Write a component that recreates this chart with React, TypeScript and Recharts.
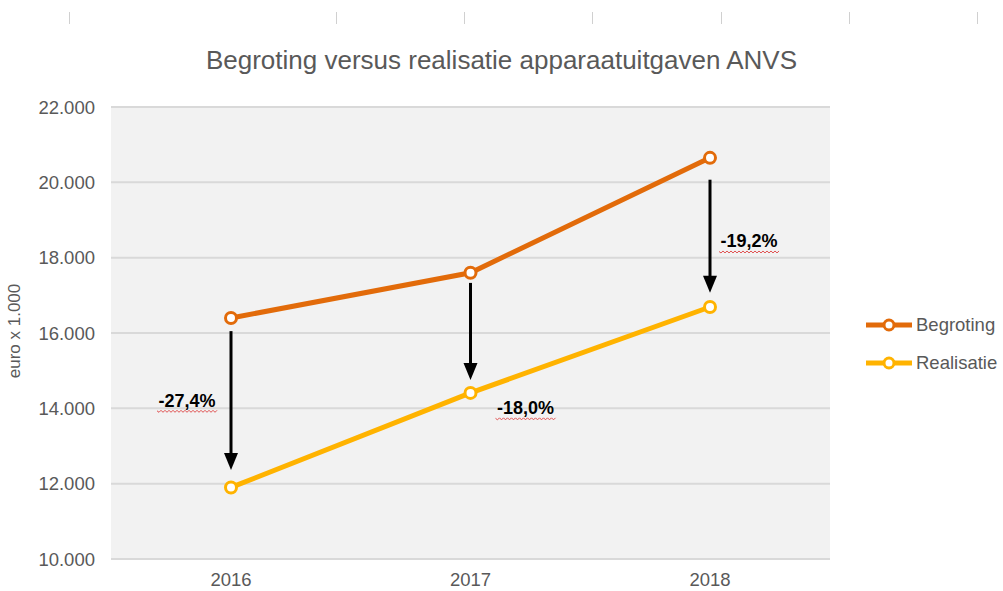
import { LineChart, Line, XAxis, YAxis, CartesianGrid, ReferenceLine, ReferenceDot } from 'recharts'

const categories = ['2016', '2017', '2018']
const begroting = [16400, 17600, 20650]
const realisatie = [11900, 14410, 16690]
// arrows run from just under the Begroting point to just above the Realisatie point
const arrowFrom = [16050, 17330, 20070]
const arrowTo = [12360, 14750, 17070]
const diffLabels = ['-27,4%', '-18,0%', '-19,2%']
const diffLabelY = [14200, 14000, 18430]
const yTicks = [10000, 12000, 14000, 16000, 18000, 20000, 22000]

const BEGROTING = '#E26B0A'
const REALISATIE = '#FFB300'
const TEXT = '#595959'
const FONT = '"Liberation Sans", Arial, sans-serif'

const chartData = categories.map((year, i) => ({
  year,
  Begroting: begroting[i],
  Realisatie: realisatie[i],
}))

const fmt = (v: number) => String(v).replace(/\B(?=(\d{3})+(?!\d))/g, '.')

// sideways shift of each percentage label from its year, in px
const labelDx = [-44, 55, 39]

function Arrow(props: any) {
  const { x1, y1, x2, y2 } = props
  return (
    <g>
      <line x1={x1} y1={y1} x2={x2} y2={y2 - 14} stroke="#000" strokeWidth={3} />
      <polygon points={`${x2 - 7},${y2 - 17} ${x2 + 7},${y2 - 17} ${x2},${y2}`} fill="#000" />
    </g>
  )
}

function squiggle(x: number, y: number, w: number) {
  let d = `M${x},${y}`
  for (let i = 0; i * 2 < w; i++) d += ` L${x + (i + 1) * 2},${y + (i % 2 === 0 ? 1.5 : -0.5)}`
  return d
}

function PctLabel(i: number) {
  return (props: any) => {
    const cx = props.cx + labelDx[i]
    const cy = props.cy
    return (
      <g>
        <text x={cx} y={cy} textAnchor="middle" dominantBaseline="central" fontSize={18} fontWeight="bold" fill="#000" fontFamily={FONT}>
          {diffLabels[i]}
        </text>
        <path d={squiggle(cx - 30, cy + 10, 60)} stroke="#E05050" strokeWidth={1} fill="none" />
      </g>
    )
  }
}

function LegendBox() {
  const items = [
    { name: 'Begroting', color: BEGROTING },
    { name: 'Realisatie', color: REALISATIE },
  ]
  return (
    <div style={{ position: 'absolute', left: 866, top: 306, fontFamily: FONT }}>
      {items.map((it) => (
        <div key={it.name} style={{ display: 'flex', alignItems: 'center', height: 38 }}>
          <svg width={50} height={14}>
            <line x1={0} y1={7} x2={46} y2={7} stroke={it.color} strokeWidth={5} />
            <circle cx={23} cy={7} r={5} fill="#fff" stroke={it.color} strokeWidth={3} />
          </svg>
          <span style={{ fontSize: 18.5, color: TEXT }}>{it.name}</span>
        </div>
      ))}
    </div>
  )
}

const topMarks = [69, 336, 464, 592, 721, 849, 977]

export default function App() {
  return (
    <div style={{ position: 'absolute', left: 0, top: 0, width: 1003, height: 591, background: '#fff', fontFamily: FONT }}>
      {topMarks.map((x) => (
        <div key={x} style={{ position: 'absolute', left: x, top: 12, width: 1, height: 12, background: '#d0d0d0' }} />
      ))}
      <div style={{ position: 'absolute', left: 0, top: 45, width: 1003, textAlign: 'center', fontSize: 26, color: TEXT }}>
        Begroting versus realisatie apparaatuitgaven ANVS
      </div>
      <div
        style={{
          position: 'absolute', left: 15, top: 331, transform: 'translate(-50%, -50%) rotate(-90deg)',
          fontSize: 17, color: TEXT, whiteSpace: 'nowrap',
        }}
      >
        euro x 1.000
      </div>
      <LineChart width={1003} height={591} data={chartData} margin={{ top: 107, right: 173, bottom: 0, left: 0 }}>
        <CartesianGrid vertical={false} stroke="#D9D9D9" strokeWidth={2} fill="#F2F2F2" />
        <XAxis
          dataKey="year" padding={{ left: 120, right: 120 }} height={32} axisLine={false} tickLine={false}
          tickSize={0} tickMargin={14} tick={{ fontSize: 18.5, fill: TEXT, fontFamily: FONT }}
        />
        <YAxis
          width={111} domain={[10000, 22000]} ticks={yTicks} tickFormatter={fmt} axisLine={false} tickLine={false}
          tickSize={0} tickMargin={16} tick={{ fontSize: 18.5, fill: TEXT, fontFamily: FONT }}
        />
        <Line
          type="linear" dataKey="Begroting" stroke={BEGROTING} strokeWidth={5} isAnimationActive={false}
          dot={{ r: 5.5, fill: '#fff', stroke: BEGROTING, strokeWidth: 3 }}
        />
        <Line
          type="linear" dataKey="Realisatie" stroke={REALISATIE} strokeWidth={5} isAnimationActive={false}
          dot={{ r: 5.5, fill: '#fff', stroke: REALISATIE, strokeWidth: 3 }}
        />
        {categories.map((c, i) => (
          <ReferenceLine
            key={'a' + c}
            segment={[{ x: c, y: arrowFrom[i] }, { x: c, y: arrowTo[i] }]}
            shape={Arrow}
          />
        ))}
        {categories.map((c, i) => (
          <ReferenceDot key={'l' + c} x={c} y={diffLabelY[i]} r={0} shape={PctLabel(i)} />
        ))}
      </LineChart>
      <LegendBox />
    </div>
  )
}
